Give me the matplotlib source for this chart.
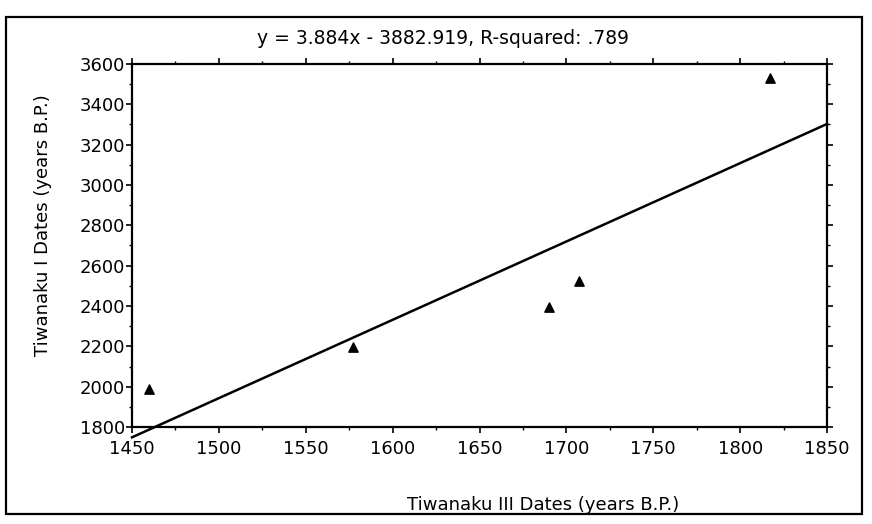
import matplotlib
matplotlib.use("Agg")
import matplotlib.pyplot as plt
from matplotlib.patches import Rectangle
from matplotlib.ticker import MultipleLocator

# Tiwanaku III vs Tiwanaku I dates (years B.P.)
tiw3_dates = [1460, 1577, 1690, 1707, 1817]
tiw1_dates = [1990, 2195, 2395, 2525, 3530]

# regression as printed in the title
slope = 3.884
intercept = -3882.919
r_squared = ".789"

x_ticks = [1450, 1500, 1550, 1600, 1650, 1700, 1750, 1800, 1850]
y_ticks = [1800, 2000, 2200, 2400, 2600, 2800, 3000, 3200, 3400, 3600]

plt.rcParams['font.family'] = ['DejaVu Sans']

fig = plt.figure(figsize=(8.72, 5.24), dpi=100)
ax = fig.add_axes([0.1514, 0.1851, 0.7970, 0.6928])

ax.scatter(tiw3_dates, tiw1_dates, marker='^', s=45, color='black', zorder=3)

x_line = [x_ticks[0], x_ticks[-1]]
y_line = [slope * x + intercept for x in x_line]
ax.plot(x_line, y_line, color='black', linewidth=1.8, clip_on=False, zorder=2)

ax.set_xlim(x_ticks[0], x_ticks[-1])
ax.set_ylim(y_ticks[0], y_ticks[-1])
ax.set_xticks(x_ticks)
ax.set_yticks(y_ticks)
ax.xaxis.set_minor_locator(MultipleLocator(25))
ax.yaxis.set_minor_locator(MultipleLocator(100))
ax.tick_params(axis='both', which='major', direction='out', length=4, width=1.2,
               labelsize=13, top=True, right=True)
ax.tick_params(axis='both', which='minor', direction='out', length=2.5, width=1.0,
               top=True, right=True)
ax.tick_params(axis='x', which='major', pad=5)
ax.tick_params(axis='y', which='major', pad=1)
for side in ax.spines.values():
    side.set_linewidth(1.6)

fig.text(0.508, 0.926, f"y = {slope}x - {abs(intercept)}, R-squared: {r_squared}",
         ha='center', va='center', fontsize=13.5)
fig.text(0.049, 0.571, "Tiwanaku I Dates (years B.P.)", rotation=90,
         ha='center', va='center', fontsize=13)
fig.text(0.623, 0.037, "Tiwanaku III Dates (years B.P.)",
         ha='center', va='center', fontsize=13)

# outer frame around the whole chart
fig.patches.append(Rectangle((0.007, 0.019), 0.9815, 0.9486, transform=fig.transFigure,
                             fill=False, edgecolor='black', linewidth=1.6))

fig.savefig("out.png", dpi=100)
